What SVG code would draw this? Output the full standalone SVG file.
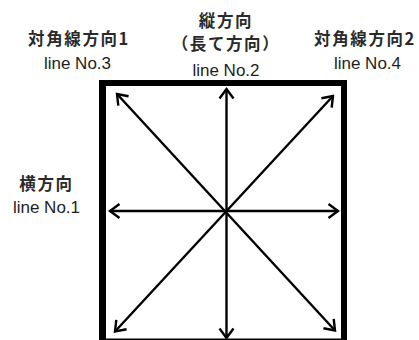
<svg xmlns="http://www.w3.org/2000/svg" width="419" height="340" viewBox="0 0 419 340">
  <style>
    .cjk { font-family: "Noto Sans CJK JP", "Liberation Sans", sans-serif; font-size: 16.5px; font-weight: bold; letter-spacing: 1.6px; fill: #2a2a2a; text-anchor: middle; }
    .lat { font-family: "Liberation Sans", "Noto Sans", sans-serif; font-size: 17px; fill: #1e1e1e; text-anchor: middle; }
    .frame { fill: #000; }
    .arrow { stroke: #000; stroke-width: 2.4; fill: none; marker-start: url(#head); marker-end: url(#head); }
  </style>
  <defs>
    <marker id="head" markerUnits="userSpaceOnUse" viewBox="0 0 30 30" markerWidth="30" markerHeight="30" refX="15" refY="15" orient="auto-start-reverse" overflow="visible">
      <path d="M5.5,8 L15,15 L5.5,22" fill="none" stroke="#000" stroke-width="2.4" stroke-linejoin="miter"/>
    </marker>
  </defs>
  <rect width="419" height="340" fill="#fff"/>

  <g id="frame">
    <rect class="frame" x="99" y="80" width="248" height="6"/>
    <rect class="frame" x="99" y="80" width="7" height="260"/>
    <rect class="frame" x="341" y="80" width="6" height="260"/>
    <rect class="frame" x="99" y="338.5" width="248" height="1.5"/>
  </g>

  <g id="connectors">
    <line class="arrow" x1="110" y1="211" x2="338" y2="211"/>
    <line class="arrow" x1="226.5" y1="89" x2="226.5" y2="338"/>
    <line class="arrow" x1="117" y1="94" x2="335" y2="330.5"/>
    <line class="arrow" x1="333" y1="96" x2="115" y2="331.5"/>
  </g>

  <g id="label-diag1">
    <text class="cjk" x="79" y="45">対角線方向1</text>
    <text class="lat" x="77.5" y="69">line No.3</text>
  </g>
  <g id="label-vertical">
    <text class="cjk" x="226" y="27">縦方向</text>
    <text class="cjk" x="226" y="50">（長て方向）</text>
    <text class="lat" x="226" y="75.5">line No.2</text>
  </g>
  <g id="label-diag2">
    <text class="cjk" x="365" y="45">対角線方向2</text>
    <text class="lat" x="367.5" y="69">line No.4</text>
  </g>
  <g id="label-horizontal">
    <text class="cjk" x="46.5" y="190">横方向</text>
    <text class="lat" x="46.5" y="213">line No.1</text>
  </g>
</svg>
